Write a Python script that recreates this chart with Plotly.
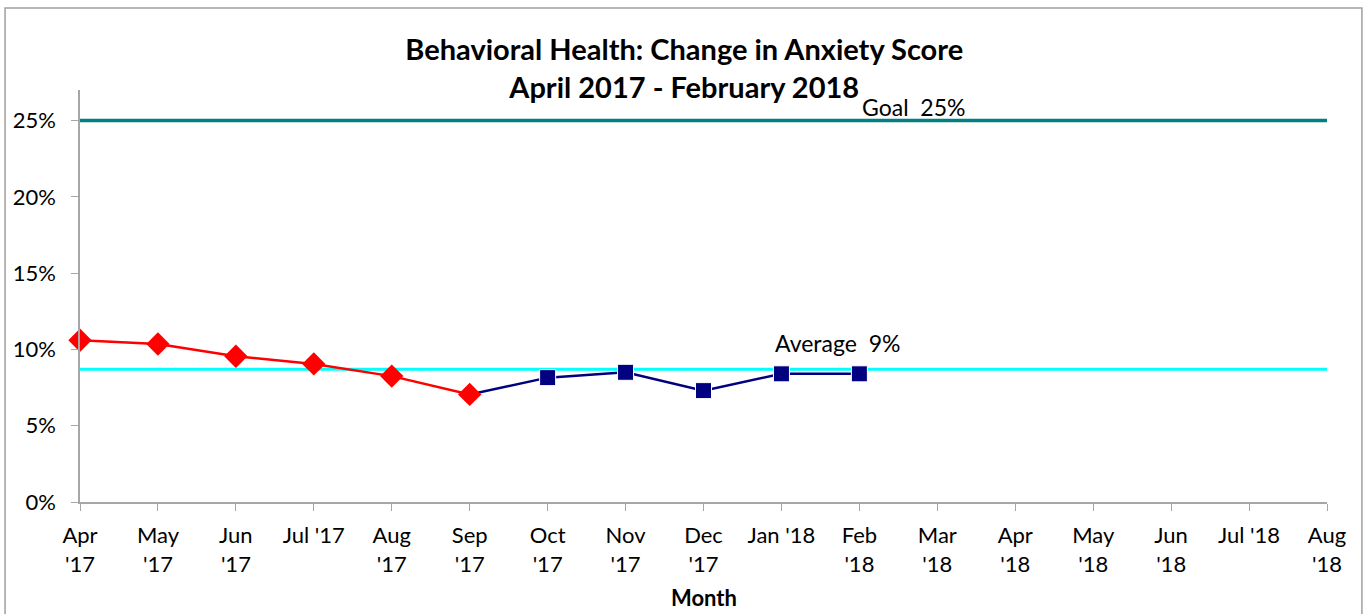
import plotly.graph_objects as go

months = ["Apr<br>'17", "May<br>'17", "Jun<br>'17", "Jul '17", "Aug<br>'17", "Sep<br>'17",
          "Oct<br>'17", "Nov<br>'17", "Dec<br>'17", "Jan '18", "Feb<br>'18", "Mar<br>'18",
          "Apr<br>'18", "May<br>'18", "Jun<br>'18", "Jul '18", "Aug<br>'18"]
baseline_vals = [10.6, 10.35, 9.55, 9.05, 8.25, 7.05]          # Apr '17 - Sep '17
followup_vals = [7.05, 8.15, 8.5, 7.3, 8.4, 8.4]                # Sep '17 - Feb '18
goal = 25
average = 8.7

FONT = "Lato"
xi = list(range(len(months)))
base_x = xi[0:6]
follow_x = xi[5:11]

fig = go.Figure()
fig.add_trace(go.Scatter(x=[xi[0], xi[-1]], y=[goal, goal], mode="lines",
                         line=dict(color="#008080", width=3.5), hoverinfo="skip"))
fig.add_trace(go.Scatter(x=[xi[0], xi[-1]], y=[average, average], mode="lines",
                         line=dict(color="#00FFFF", width=3), hoverinfo="skip"))
fig.add_trace(go.Scatter(x=follow_x, y=followup_vals, mode="lines+markers",
                         line=dict(color="#000080", width=2.5),
                         marker=dict(symbol="square", size=[0] + [16] * 5, color="#000080",
                                     opacity=1),
                         cliponaxis=False))
fig.add_trace(go.Scatter(x=base_x, y=baseline_vals, mode="lines+markers",
                         line=dict(color="#FF0000", width=2.5),
                         marker=dict(symbol="diamond", size=18, color="#FF0000", opacity=1),
                         cliponaxis=False))

fig.add_annotation(x=10.7, y=25.9, text="Goal\u00a0\u00a025%", showarrow=False,
                   font=dict(family=FONT, size=23, color="black"))
fig.add_annotation(x=9.72, y=10.45, text="Average\u00a0\u00a09%", showarrow=False,
                   font=dict(family=FONT, size=23, color="black"))
fig.add_annotation(xref="paper", yref="paper", x=0.5, y=-0.232, text="<b>Month</b>",
                   showarrow=False, yanchor="middle",
                   font=dict(family=FONT, size=22, color="black"))

# outer border
fig.add_shape(type="rect", xref="paper", yref="paper",
              x0=-0.0601, x1=1.028, y0=-0.3, y1=1.199,
              line=dict(color="#A0A0A0", width=1.5))

fig.update_layout(
    width=1363, height=614,
    margin=dict(l=80, r=36, t=90, b=112),
    paper_bgcolor="white", plot_bgcolor="white",
    showlegend=False,
    title=dict(text="<b>Behavioral Health: Change in Anxiety Score<br>April 2017 - February 2018</b>",
               x=0.502, xref="container", y=0.902, yref="container", yanchor="middle",
               font=dict(family=FONT, size=29, color="black")),
    font=dict(family=FONT, color="black"),
)
fig.update_xaxes(range=[0, 16], tickmode="array", tickvals=xi, ticktext=months,
                 showgrid=False, zeroline=False, showline=True, linecolor="#A6A6A6",
                 linewidth=1.5, ticks="outside", ticklen=7, tickcolor="#A6A6A6",
                 ticklabelstandoff=6,
                 tickfont=dict(family=FONT, size=22, color="black"), tickangle=0)
fig.update_yaxes(range=[0, 27], tickmode="array", tickvals=[0, 5, 10, 15, 20, 25],
                 ticktext=["0%", "5%", "10%", "15%", "20%", "25%"],
                 showgrid=False, zeroline=False, showline=True, linecolor="#A6A6A6",
                 linewidth=1.5, ticks="outside", ticklen=7, tickcolor="#A6A6A6",
                 ticklabelstandoff=11,
                 tickfont=dict(family=FONT, size=22, color="black"))

fig.write_html("out.html", config={"displayModeBar": False},
               post_script="document.body.style.margin='0';document.body.style.overflow='hidden';")
